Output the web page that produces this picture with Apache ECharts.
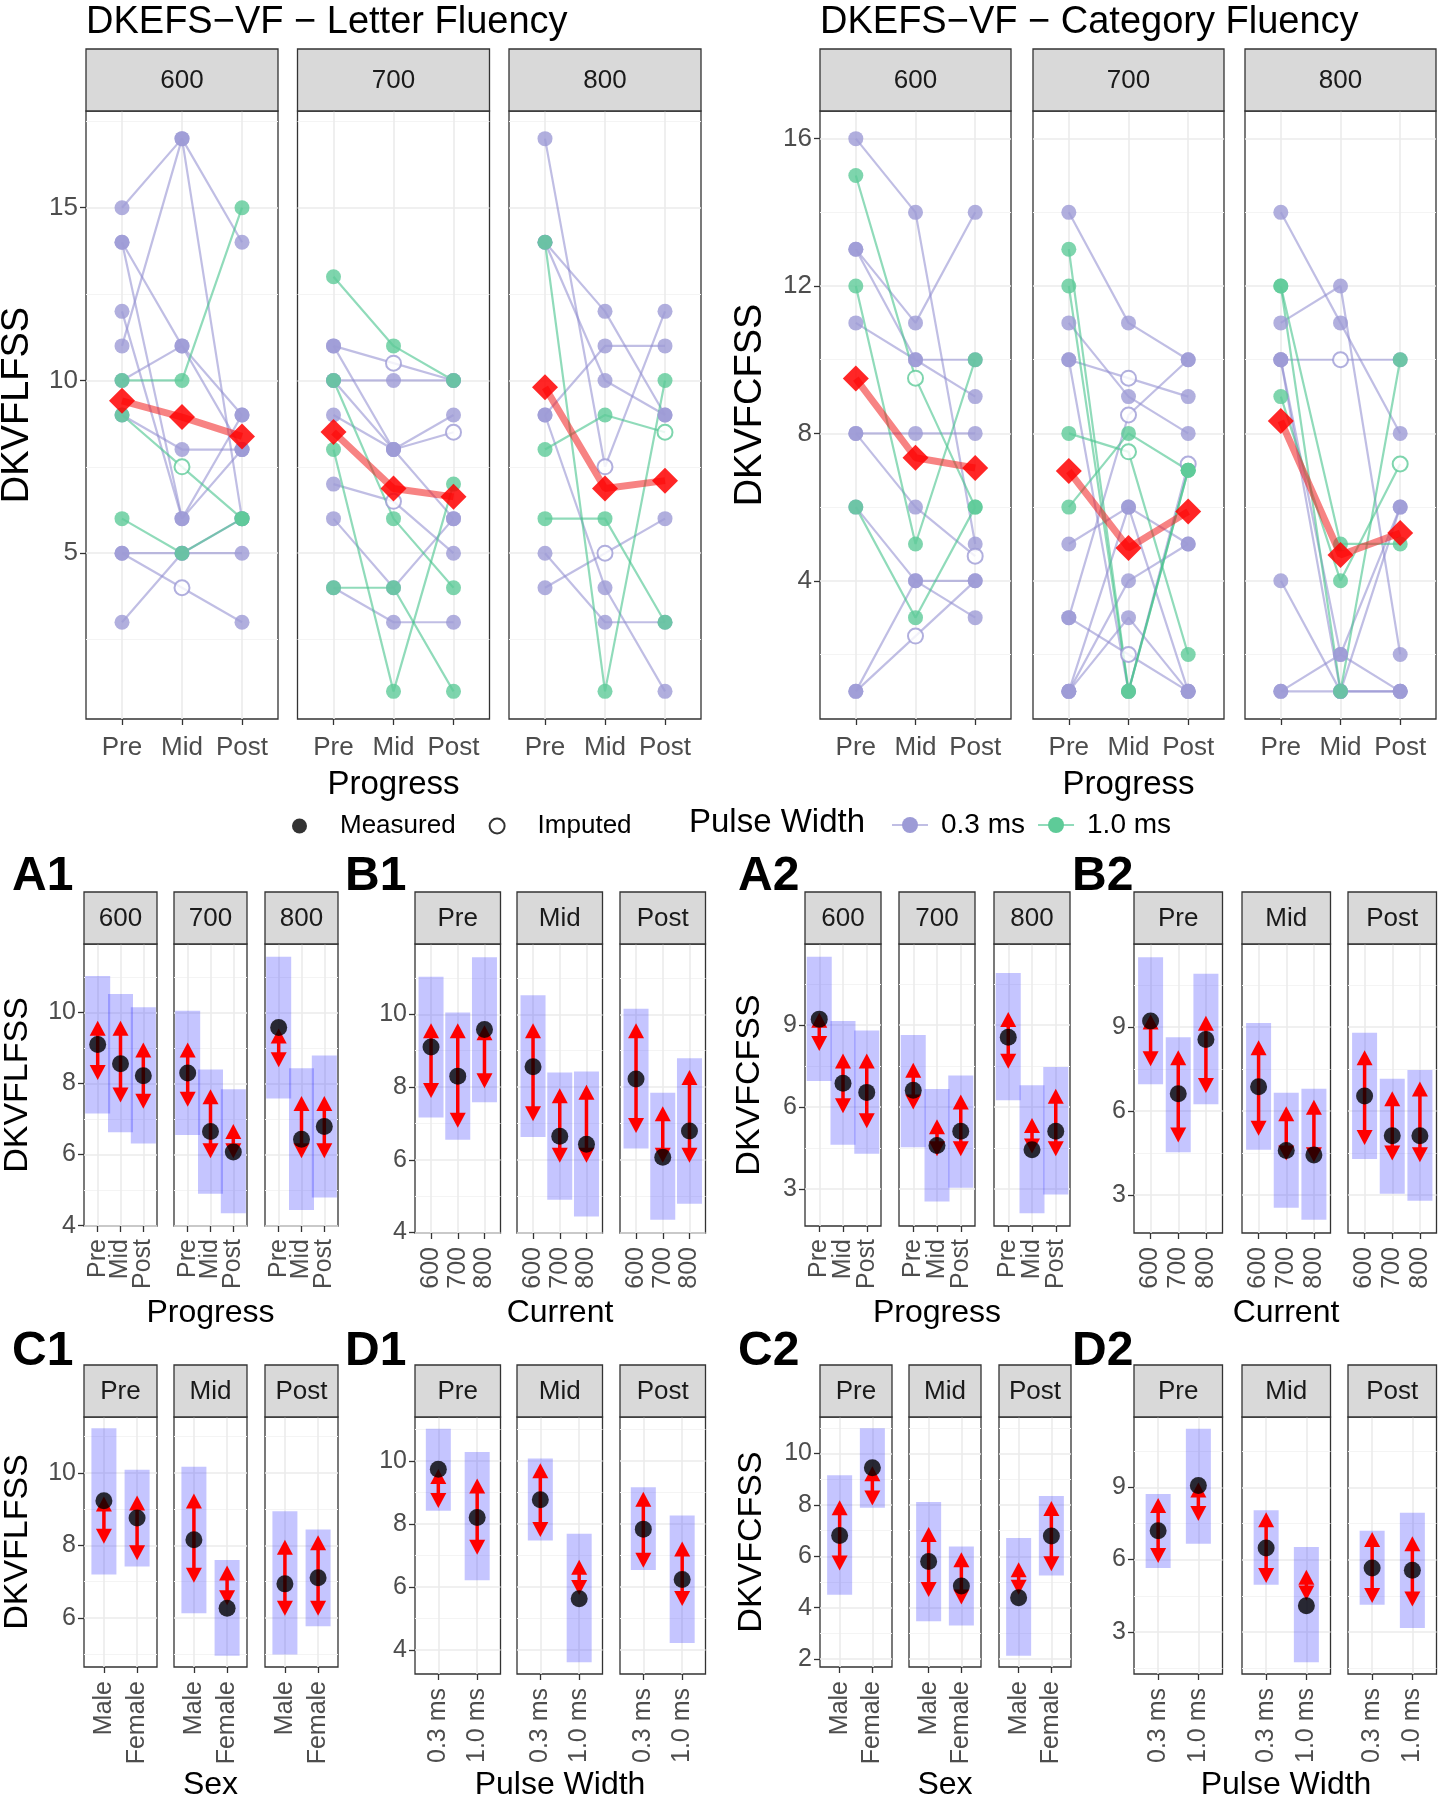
<!DOCTYPE html>
<html><head><meta charset="utf-8">
<script src="https://cdn.jsdelivr.net/npm/echarts@6/dist/echarts.min.js"></script>
<style>html,body{margin:0;padding:0;background:#fff}#c{width:1447px;height:1800px}</style>
</head><body><div id="c"></div>
<script>
// ================= DATA =================
const PROGRESS = ['Pre','Mid','Post'];
const CURRENT = ['600','700','800'];
const SEX = ['Male','Female'];
const PULSE = ['0.3 ms','1.0 ms'];

// --- Top: individual trajectories [Pre, Mid, Post]; *_IMP = [subject, timeIndex] imputed ---
const LF600_P = [[15,17,14],[14,11,8],[14,6,9],[12,6,8],[11,17,6],[10,11,9],[9,8,8],[5,5,5],[5,4,3],[3,5,6]];
const LF600_P_IMP = [[8,1]];
const LF600_G = [[10,10,15],[9,7.5,6],[6,5,6]];
const LF600_G_IMP = [[1,1]];
const LF600_MEAN = [9.41,8.94,8.38];

const LF700_P = [[11,10.5,10],[11,8,9],[10,10,10],[10,8,6],[9,8,8.5],[7,6.5,5],[6,4,6],[4,3,3]];
const LF700_P_IMP = [[0,1],[4,2],[5,1]];
const LF700_G = [[13,11,10],[10,6,4],[8,1,7],[4,4,1]];
const LF700_G_IMP = [];
const LF700_MEAN = [8.51,6.87,6.63];

const LF800_P = [[17,7.5,12],[14,12,9],[14,10,9],[9,11,11],[9,4,1],[5,3,3],[4,5,6]];
const LF800_P_IMP = [[0,1],[6,1]];
const LF800_G = [[14,1,10],[8,9,8.5],[6,6,3]];
const LF800_G_IMP = [[1,2]];
const LF800_MEAN = [9.80,6.87,7.10];

const CF600_P = [[16,14,5],[13,10,9],[13,11,14],[11,10,10],[8,8,8],[8,6,4.67],[6,4,3],[1,4,4],[1,2.5,4]];
const CF600_P_IMP = [[5,2],[8,1]];
const CF600_G = [[15,9.5,6],[12,5,10],[6,3,6]];
const CF600_G_IMP = [[0,1]];
const CF600_MEAN = [9.49,7.34,7.06];

const CF700_P = [[14,11,10],[11,9,8],[10,9.5,9],[10,1,7.17],[5,6,1],[3,8.5,10],[3,2,1],[1,4,5],[1,3,1],[1,6,5]];
const CF700_P_IMP = [[2,1],[3,2],[5,1],[6,1]];
const CF700_G = [[13,1,7],[12,1,7],[8,7.5,2],[6,8,7]];
const CF700_G_IMP = [[2,1]];
const CF700_MEAN = [6.98,4.89,5.88];

const CF800_P = [[14,11,8],[11,12,2],[10,10,10],[10,1,6],[10,2,1],[4,1,1],[1,1,1],[1,2,6]];
const CF800_P_IMP = [[2,1]];
const CF800_G = [[12,5,5],[9,4,7.17],[12,1,10]];
const CF800_G_IMP = [[1,2]];
const CF800_MEAN = [8.34,4.70,5.30];

// --- Bottom: estimates & intervals, rows = Current (600/700/800), cols = Progress ---
const LF_EST = [[9.10,8.56,8.22],[8.30,6.65,6.07],[9.58,6.43,6.79]];
const LF_HI  = [[11.03,10.52,10.15],[10.05,8.40,7.84],[11.57,8.43,8.79]];
const LF_LO  = [[7.16,6.63,6.31],[6.55,4.90,4.35],[7.58,4.44,4.79]];
const A1_ARR_HI = [[9.77,9.77,9.16],[9.16,7.84,6.86],[9.55,7.65,7.65]];
const A1_ARR_LO = [[8.10,7.47,7.29],[7.35,5.90,5.90],[8.46,5.90,5.90]];
// B1: rows = Progress, cols = Current
const B1_ARR_HI = [[9.75,9.75,9.70],[9.75,7.97,8.06],[9.75,7.47,8.47]];
const B1_ARR_LO = [[7.70,6.88,7.97],[7.06,5.92,5.92],[6.74,5.92,5.92]];

const CF_EST = [[9.22,6.87,6.54],[6.62,4.60,5.12],[8.56,4.44,5.12]];
const CF_HI  = [[11.50,9.15,8.80],[8.64,6.66,7.16],[10.91,6.80,7.47]];
const CF_LO  = [[6.96,4.62,4.29],[4.53,2.55,3.05],[6.25,2.12,2.80]];
const A2_ARR_HI = [[9.45,7.96,7.96],[7.62,5.56,6.46],[9.48,5.60,6.67]];
const A2_ARR_LO = [[8.05,5.78,5.23],[5.91,4.20,4.20],[7.40,4.30,4.20]];
const B2_ARR_HI = [[9.45,8.18,9.41],[8.53,6.18,6.41],[8.18,6.71,7.06]];
const B2_ARR_LO = [[7.60,4.88,6.65],[5.12,4.24,4.18],[4.79,4.24,4.18]];

// rows = Progress, cols = Sex
const C1_EST = [[9.23,8.76],[8.16,6.27],[6.94,7.11]];
const C1_HI  = [[11.23,10.09],[10.17,7.60],[8.94,8.44]];
const C1_LO  = [[7.20,7.42],[6.13,4.96],[4.99,5.77]];
const C1_ARR_HI = [[9.35,9.38],[9.43,7.45],[8.16,8.28]];
const C1_ARR_LO = [[8.05,7.59],[6.97,6.35],[6.06,6.06]];
// rows = Progress, cols = Pulse width
const D1_EST = [[9.74,8.21],[8.77,5.63],[7.84,6.24]];
const D1_HI  = [[11.03,10.29],[10.08,7.69],[9.17,8.27]];
const D1_LO  = [[8.42,6.22],[7.48,3.61],[6.54,4.22]];
const D1_ARR_HI = [[9.75,9.45],[9.93,6.87],[9.03,7.45]];
const D1_ARR_LO = [[8.51,7.03],[7.59,5.75],[6.61,5.40]];

const C2_EST = [[6.81,9.45],[5.80,4.84],[4.38,6.79]];
const C2_HI  = [[9.15,10.98],[8.11,6.38],[6.71,8.35]];
const C2_LO  = [[4.50,7.89],[3.47,3.30],[2.13,5.25]];
const C2_ARR_HI = [[8.18,9.50],[7.14,6.16],[5.77,8.15]];
const C2_ARR_LO = [[5.45,7.98],[4.41,4.12],[4.50,5.42]];

const D2_EST = [[7.20,9.07],[6.48,4.09],[5.65,5.56]];
const D2_HI  = [[8.72,11.43],[8.05,6.52],[7.20,7.94]];
const D2_LO  = [[5.65,6.66],[4.96,1.74],[4.13,3.16]];
const D2_ARR_HI = [[8.56,9.20],[7.96,5.58],[7.15,6.97]];
const D2_ARR_LO = [[5.86,7.60],[5.03,4.30],[4.20,4.06]];

// ================= STYLE / BUILD =================
const FONT = '"Liberation Sans", Arial, sans-serif';
const PURPLE = '#9D9BD6', GREEN = '#5ECB98';
const PURPLE_LINE = 'rgba(140,136,205,0.55)', GREEN_LINE = 'rgba(70,195,140,0.6)';
const TICK_TXT = '#4D4D4D';

const opt = {animation:false, backgroundColor:'#fff', textStyle:{fontFamily:FONT},
  grid:[], xAxis:[], yAxis:[], series:[], graphic:[], legend:[]};

function expand(vals){ const lo=Math.min(...vals), hi=Math.max(...vals), r=hi-lo; return [lo-0.05*r, hi+0.05*r]; }
function flat(a){ return a.flat(Infinity); }
function T(m){ return m[0].map((_,j)=>m.map(r=>r[j])); }

function txt(text, x, y, size, o){
  o = o||{};
  opt.graphic.push({type:'text', x, y, rotation:o.rot||0, z:100, silent:true,
    style:{text, fontSize:size, fontFamily:FONT, fontWeight:o.bold?'bold':'normal', fill:o.fill||'#000',
      align:o.align||'center', verticalAlign:'middle', textAlign:o.align||'center', textVerticalAlign:'middle'}});
}

function xLabelCfg(p, values){
  return {show:true, customValues:values, formatter:v=>p.xNames[Math.round(v)-1]||'', rotate:p.rotate,
    margin:p.xMargin, fontSize:p.xFont||25, color:TICK_TXT, fontFamily:FONT, hideOverlap:false,
    showMinLabel:true, showMaxLabel:true};
}

function panel(p){
  const gi = opt.grid.length;
  opt.grid.push({left:p.left, top:p.top, width:p.width, height:p.height, show:true,
    borderColor:'#333', borderWidth:1.3, backgroundColor:'#fff'});
  const xs = p.xNames.map((_,i)=>i+1);
  // rotated, tightly packed labels: alternate labels over two coincident axes so none is dropped
  const odd = p.rotate ? xs.filter(v=>v%2===1) : xs;
  const even = p.rotate ? xs.filter(v=>v%2===0) : [];
  const xi = opt.xAxis.length;
  opt.xAxis.push({gridIndex:gi, type:'value', position:'bottom', min:0.4, max:xs.length+0.6,
    axisLine:{show:false},
    axisTick:{show:true, customValues:xs, length:6, lineStyle:{color:'#333', width:1.3}},
    axisLabel:xLabelCfg(p, odd),
    splitLine:{show:true, lineStyle:{color:'#EBEBEB', width:1.6}}});
  if (even.length) {
    opt.xAxis.push({gridIndex:gi, type:'value', position:'bottom', offset:0, min:0.4, max:xs.length+0.6,
      axisLine:{show:false}, axisTick:{show:false, customValues:even},
      axisLabel:xLabelCfg(p, even), splitLine:{show:false}});
  }
  const yi = opt.yAxis.length;
  opt.yAxis.push({gridIndex:gi, type:'value', min:p.yMin, max:p.yMax, position:'left',
    axisLine:{show:false},
    axisTick:{show:p.yLabels, customValues:p.major, length:6, lineStyle:{color:'#333', width:1.3}},
    axisLabel:{show:p.yLabels, customValues:p.major, margin:8, fontSize:p.yFont||25, color:TICK_TXT, fontFamily:FONT,
      showMinLabel:true, showMaxLabel:true},
    splitLine:{show:true, lineStyle:{color:'#EBEBEB', width:1.6}}});
  opt.yAxis.push({gridIndex:gi, type:'value', min:p.yMin, max:p.yMax, position:'left',
    axisLine:{show:false}, axisTick:{show:false, customValues:p.minor}, axisLabel:{show:false, customValues:p.minor},
    splitLine:{show:true, lineStyle:{color:'#F4F4F4', width:1}}});
  opt.graphic.push({type:'rect', z:50, silent:true, shape:{x:p.left, y:p.stripTop, width:p.width, height:p.top-p.stripTop},
    style:{fill:'#D9D9D9', stroke:'#333', lineWidth:1.3}});
  txt(p.strip, p.left+p.width/2, (p.stripTop+p.top)/2+1, 26, {fill:'#1A1A1A'});
  return {gi, xi, yi};
}

function pts(subs, imp, wantImp){
  const out=[];
  subs.forEach((s,si)=>s.forEach((v,ti)=>{
    const isImp = imp.some(([a,b])=>a===si&&b===ti);
    if(isImp===wantImp) out.push([ti+1, v]);
  }));
  return out;
}

function topGroup(lefts, width, facets, major, minor){
  const all = [];
  facets.forEach(f=>{ all.push(...flat(f.P), ...flat(f.G)); });
  const [ymin, ymax] = expand(all);
  facets.forEach((f,k)=>{
    const ax = panel({left:lefts[k], top:111, width, height:608, stripTop:49, strip:CURRENT[k],
      xNames:PROGRESS, rotate:0, xMargin:16, xFont:26, yFont:26, yMin:ymin, yMax:ymax, major, minor, yLabels:k===0});
    const base = {xAxisIndex:ax.xi, yAxisIndex:ax.yi, silent:true};
    f.P.forEach((s,i)=>opt.series.push(Object.assign({type:'line', name:'sp'+k+'_'+i, data:s.map((v,t)=>[t+1,v]),
      symbol:'none', lineStyle:{color:PURPLE_LINE, width:2.2}, z:2}, base)));
    f.G.forEach((s,i)=>opt.series.push(Object.assign({type:'line', name:'sg'+k+'_'+i, data:s.map((v,t)=>[t+1,v]),
      symbol:'none', lineStyle:{color:GREEN_LINE, width:2.2}, z:2}, base)));
    opt.series.push(Object.assign({type:'scatter', name:'pm', data:pts(f.P,f.PI,false), symbol:'circle', symbolSize:15,
      itemStyle:{color:PURPLE}, z:3}, base));
    opt.series.push(Object.assign({type:'scatter', name:'pi', data:pts(f.P,f.PI,true), symbol:'emptyCircle', symbolSize:15,
      itemStyle:{color:PURPLE, borderColor:PURPLE, borderWidth:2}, z:3}, base));
    opt.series.push(Object.assign({type:'scatter', name:'gm', data:pts(f.G,f.GI,false), symbol:'circle', symbolSize:15,
      itemStyle:{color:GREEN}, z:3}, base));
    opt.series.push(Object.assign({type:'scatter', name:'gi', data:pts(f.G,f.GI,true), symbol:'emptyCircle', symbolSize:15,
      itemStyle:{color:GREEN, borderColor:GREEN, borderWidth:2}, z:3}, base));
    opt.series.push(Object.assign({type:'line', name:'mean', data:f.M.map((v,t)=>[t+1,v]), symbol:'diamond', symbolSize:26,
      itemStyle:{color:'rgba(255,0,0,0.85)'}, lineStyle:{color:'rgba(240,30,30,0.55)', width:7}, z:4}, base));
  });
}

function bandSeries(base, data){
  return Object.assign({type:'custom', data, encode:{x:0, y:[1,2]}, z:2,
    renderItem(params, api){
      const x=api.value(0), lo=api.value(1), hi=api.value(2);
      const a=api.coord([x,hi]), b=api.coord([x,lo]);
      return {type:'rect', shape:{x:a[0]-12.5, y:a[1], width:25, height:b[1]-a[1]}, style:{fill:'rgba(40,40,255,0.27)'}};
    }}, base);
}
function arrowSeries(base, data){
  return Object.assign({type:'custom', data, encode:{x:0, y:[1,2]}, z:3,
    renderItem(params, api){
      const x=api.value(0), lo=api.value(1), hi=api.value(2);
      const a=api.coord([x,hi]), b=api.coord([x,lo]);
      const L=15, W=8;
      return {type:'group', children:[
        {type:'line', shape:{x1:a[0], y1:a[1]+L-2, x2:b[0], y2:b[1]-L+2}, style:{stroke:'#FF0000', lineWidth:3.5}},
        {type:'polygon', shape:{points:[[a[0],a[1]],[a[0]-W,a[1]+L],[a[0]+W,a[1]+L]]}, style:{fill:'#FF0000'}},
        {type:'polygon', shape:{points:[[b[0],b[1]],[b[0]-W,b[1]-L],[b[0]+W,b[1]-L]]}, style:{fill:'#FF0000'}}
      ]};
    }}, base);
}

function bottomGroup(g){
  const [ymin, ymax] = expand([...flat(g.hi), ...flat(g.lo)]);
  g.facets.forEach((fname,k)=>{
    const ax = panel({left:g.lefts[k], top:g.top, width:g.width, height:g.height, stripTop:g.stripTop, strip:fname,
      xNames:g.xNames, rotate:90, xMargin:g.xMargin, yMin:ymin, yMax:ymax, major:g.major, minor:g.minor, yLabels:k===0});
    const base = {xAxisIndex:ax.xi, yAxisIndex:ax.yi, silent:true};
    opt.series.push(bandSeries(base, g.xNames.map((_,j)=>[j+1, g.lo[k][j], g.hi[k][j]])));
    opt.series.push(arrowSeries(base, g.xNames.map((_,j)=>[j+1, g.alo[k][j], g.ahi[k][j]])));
    opt.series.push(Object.assign({type:'scatter', data:g.xNames.map((_,j)=>[j+1, g.est[k][j]]), symbol:'circle', symbolSize:17,
      itemStyle:{color:'#000'}, z:4}, base));
  });
}

// ---------- top ----------
topGroup([86,297.5,509], 192, [
  {P:LF600_P, PI:LF600_P_IMP, G:LF600_G, GI:LF600_G_IMP, M:LF600_MEAN},
  {P:LF700_P, PI:LF700_P_IMP, G:LF700_G, GI:LF700_G_IMP, M:LF700_MEAN},
  {P:LF800_P, PI:LF800_P_IMP, G:LF800_G, GI:LF800_G_IMP, M:LF800_MEAN}], [5,10,15], [2.5,7.5,12.5,17.5]);
topGroup([820,1033,1245], 191, [
  {P:CF600_P, PI:CF600_P_IMP, G:CF600_G, GI:CF600_G_IMP, M:CF600_MEAN},
  {P:CF700_P, PI:CF700_P_IMP, G:CF700_G, GI:CF700_G_IMP, M:CF700_MEAN},
  {P:CF800_P, PI:CF800_P_IMP, G:CF800_G, GI:CF800_G_IMP, M:CF800_MEAN}], [4,8,12,16], [2,6,10,14]);

txt('DKEFS\u2212VF \u2212 Letter Fluency', 86, 23, 38, {align:'left'});
txt('DKEFS\u2212VF \u2212 Category Fluency', 820, 23, 38, {align:'left'});
txt('Progress', 393.5, 785, 33);
txt('Progress', 1128.5, 785, 33);
txt('DKVFLFSS', 18, 405, 38, {rot:Math.PI/2});
txt('DKVFCFSS', 751, 405, 38, {rot:Math.PI/2});

// ---------- legend ----------
opt.series.push({type:'scatter', name:'Measured', data:[], xAxisIndex:0, yAxisIndex:0, symbol:'circle', itemStyle:{color:'#000'}});
opt.series.push({type:'scatter', name:'Imputed', data:[], xAxisIndex:0, yAxisIndex:0, symbol:'emptyCircle', itemStyle:{color:'#000', borderWidth:2}});
opt.series.push({type:'line', name:'0.3 ms', data:[], xAxisIndex:0, yAxisIndex:0, symbol:'circle', symbolSize:14, itemStyle:{color:PURPLE}, lineStyle:{color:PURPLE_LINE, width:3}});
opt.series.push({type:'line', name:'1.0 ms', data:[], xAxisIndex:0, yAxisIndex:0, symbol:'circle', symbolSize:14, itemStyle:{color:GREEN}, lineStyle:{color:GREEN_LINE, width:3}});
opt.legend.push({left:287, top:808, itemWidth:15, itemHeight:15, itemGap:33, selectedMode:false,
  data:['Measured','Imputed'], textStyle:{fontSize:26, color:'#000', fontFamily:FONT, padding:[0,0,0,28]}});
opt.legend.push({left:886, top:806, itemWidth:36, itemHeight:20, itemGap:12, selectedMode:false,
  data:['0.3 ms','1.0 ms'], textStyle:{fontSize:28, color:'#000', fontFamily:FONT, padding:[0,0,0,8]}});
txt('Pulse Width', 689, 823, 33, {align:'left'});

// ---------- bottom ----------
const rowAB = {stripTop:892, top:944};
const rowCD = {stripTop:1365, top:1417};
bottomGroup(Object.assign({lefts:[84,174,265], width:73, height:282, facets:CURRENT, xNames:PROGRESS, xMargin:13,
  est:LF_EST, hi:LF_HI, lo:LF_LO, ahi:A1_ARR_HI, alo:A1_ARR_LO, major:[4,6,8,10], minor:[5,7,9,11]}, rowAB));
bottomGroup(Object.assign({lefts:[415,517,620], width:85.5, height:289, facets:PROGRESS, xNames:CURRENT, xMargin:14,
  est:T(LF_EST), hi:T(LF_HI), lo:T(LF_LO), ahi:B1_ARR_HI, alo:B1_ARR_LO, major:[4,6,8,10], minor:[5,7,9,11]}, rowAB));
bottomGroup(Object.assign({lefts:[805,899,994], width:76, height:282, facets:CURRENT, xNames:PROGRESS, xMargin:13,
  est:CF_EST, hi:CF_HI, lo:CF_LO, ahi:A2_ARR_HI, alo:A2_ARR_LO, major:[3,6,9], minor:[4.5,7.5,10.5]}, rowAB));
bottomGroup(Object.assign({lefts:[1134,1242,1348], width:88.5, height:289, facets:PROGRESS, xNames:CURRENT, xMargin:14,
  est:T(CF_EST), hi:T(CF_HI), lo:T(CF_LO), ahi:B2_ARR_HI, alo:B2_ARR_LO, major:[3,6,9], minor:[4.5,7.5,10.5]}, rowAB));

bottomGroup(Object.assign({lefts:[84,174,265], width:73, height:250, facets:PROGRESS, xNames:SEX, xMargin:14,
  est:C1_EST, hi:C1_HI, lo:C1_LO, ahi:C1_ARR_HI, alo:C1_ARR_LO, major:[6,8,10], minor:[5,7,9,11]}, rowCD));
bottomGroup(Object.assign({lefts:[415,517,620], width:85.5, height:257, facets:PROGRESS, xNames:PULSE, xMargin:14,
  est:D1_EST, hi:D1_HI, lo:D1_LO, ahi:D1_ARR_HI, alo:D1_ARR_LO, major:[4,6,8,10], minor:[5,7,9,11]}, rowCD));
bottomGroup(Object.assign({lefts:[820,909,999], width:72, height:250, facets:PROGRESS, xNames:SEX, xMargin:14,
  est:C2_EST, hi:C2_HI, lo:C2_LO, ahi:C2_ARR_HI, alo:C2_ARR_LO, major:[2,4,6,8,10], minor:[3,5,7,9,11]}, rowCD));
bottomGroup(Object.assign({lefts:[1134,1242,1348], width:88.5, height:257, facets:PROGRESS, xNames:PULSE, xMargin:14,
  est:D2_EST, hi:D2_HI, lo:D2_LO, ahi:D2_ARR_HI, alo:D2_ARR_LO, major:[3,6,9], minor:[1.5,4.5,7.5,10.5]}, rowCD));

// panel letters & axis titles
[['A1',12,877],['B1',345,877],['A2',738,877],['B2',1072,877],['C1',12,1352],['D1',345,1352],['C2',738,1352],['D2',1072,1352]]
  .forEach(([t,x,y])=>txt(t, x, y, 48, {bold:true, align:'left'}));
txt('Progress', 210.5, 1313, 32); txt('Current', 560, 1313, 32);
txt('Progress', 937, 1313, 32); txt('Current', 1286, 1313, 32);
txt('Sex', 210.5, 1785, 32); txt('Pulse Width', 560, 1785, 32);
txt('Sex', 945, 1785, 32); txt('Pulse Width', 1286, 1785, 32);
txt('DKVFLFSS', 18, 1085, 34, {rot:Math.PI/2});
txt('DKVFCFSS', 750, 1085, 34, {rot:Math.PI/2});
txt('DKVFLFSS', 18, 1542, 34, {rot:Math.PI/2});
txt('DKVFCFSS', 752, 1542, 34, {rot:Math.PI/2});

const chart = echarts.init(document.getElementById('c'), null, {renderer:'canvas'});
chart.setOption(opt);
</script>
</body></html>
